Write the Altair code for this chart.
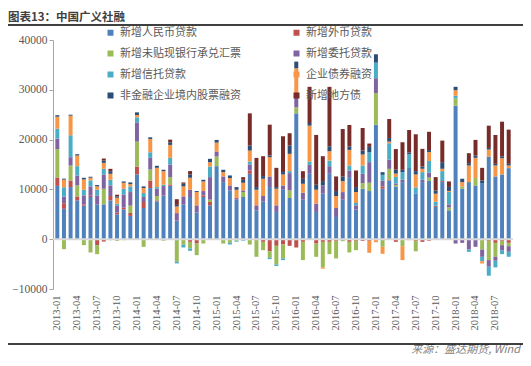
import altair as alt
import pandas as pd

months = [f"{y}-{m:02d}" for y in range(2013, 2019) for m in range(1, 13)][:69]

series_names = ["新增人民币贷款", "新增外币贷款", "新增未贴现银行承兑汇票", "新增委托贷款",
                "新增信托贷款", "企业债券融资", "非金融企业境内股票融资", "新增地方债"]
series_colors = ["#4F81BD", "#C0504D", "#9BBB59", "#8064A2",
                 "#4BACC6", "#F79646", "#2C4D75", "#772C2A"]

rmb = [10700, 6100, 10470, 7800, 6730, 8470, 6930, 7000, 7800, 5000, 6000, 4670,
       13000, 6270, 10270, 7600, 8670, 10730, 3670, 6930, 8470, 5330, 8470, 6800,
       14670, 11470, 9800, 7930, 8470, 13130, 5800, 7600, 10470, 5470, 9930, 8270,
       25270, 7930, 13130, 5470, 9130, 13130, 4470, 7930, 12470, 5930, 10130, 9670,
       23000, 10130, 11800, 10600, 11470, 14300, 9200, 11470, 11700, 6500, 11470, 5800,
       26800, 10130, 11470, 10800, 11270, 16600, 12600, 13000, 14270]
fx = [1700, 1130, 1330, 800, 270, 270, -1200, -470, 870, 330, 330, 600,
      1600, 1200, 1530, 200, 130, 270, 100, 0, -530, -870, 330, 670,
      0, 0, 0, 0, 0, 670, 0, -530, -2400, -1330, -1070, -1330,
      -1670, -530, 0, -870, -530, -530, -330, 0, -530, -330, -330, -330,
      0, 470, 200, -530, 0, 0, -330, -530, -300, 200, 200, 0,
      0, 0, 0, 0, 0, -330, -730, -330, -730]
ba = [5700, -2000, 3000, 2200, -1200, -2670, -1800, 3130, -200, -330, -200, 1470,
      5000, -1530, 2200, 870, -300, 1470, -4530, -1130, -1330, -2330, -870, 470,
      1930, -870, -730, -300, 1000, -1070, -3530, -1670, -1330, -3730, -2800, 1530,
      1200, -3670, 0, -2670, -5130, -2470, -3530, -400, -2130, -1870, 1130, 1670,
      6330, -1530, 2130, 300, -1400, 0, -2100, 0, 670, 0, 0, 600,
      1470, 470, 0, 1470, -2070, -3870, -2800, -870, -670]
ent = [2100, 1330, 1670, 2000, 1800, 1870, 1870, 2870, 2130, 1470, 2670, 2730,
       3870, 1000, 2330, 1470, 1870, 2530, 1470, 1670, 1470, 1470, 870, 4530,
       1000, 1130, 1000, 330, 330, 1200, 1000, 1070, 2130, 1330, 870, 3470,
       2130, 1400, 1800, 1670, 1670, 1530, 1800, 1530, 1330, 870, 1870, 4130,
       3000, 1200, 1870, 300, 470, 0, 0, 470, 1000, 0, 0, 600,
       -870, -730, -2070, -1530, -1470, -1330, -800, -1000, -1130]
trust = [2000, 1870, 4400, 1870, 1130, 1200, 1130, 1130, 1130, 330, 1130, 1130,
         1000, 800, 1130, 330, 270, 1330, -330, -530, -470, 0, 0, 2130,
         0, 0, -330, -200, -300, 600, 0, 0, -270, -330, -330, 400,
         530, 0, 670, 0, 0, 1130, 0, 0, 1000, 470, 1670, 2000,
         3130, 1130, 3270, 1300, 1530, 2770, 1200, 1530, 2330, 830, 2000, 2500,
         530, 0, -470, 0, -870, -1800, -1330, -800, -1000]
bond = [2400, 1530, 3930, 2130, 2070, 530, 670, 1200, 1200, 1200, 1200, 470,
        470, 1000, 2670, 3870, 2730, 2600, 1330, 2000, 2400, 2670, 1930, 870,
        1800, 870, 1470, 1670, 1530, 2200, 3130, 3470, 3870, 3330, 2200, 3470,
        5200, 1800, 7200, 2800, -270, 1870, 2400, 2200, 3130, 2200, 2200, -2400,
        -600, -1400, 330, 670, -2800, -200, 2600, 670, 1800, 1600, 470, 200,
        1130, 870, 3330, 4070, -470, 1400, 2200, 3270, 530]
eq = [300, 200, 200, 270, 330, 200, 270, 470, 530, 270, 270, 330,
      530, 330, 330, 400, 270, 530, 330, 530, 670, 200, 330, 670,
      530, 470, 530, 530, 600, 1000, 530, 530, 330, 330, 470, 1670,
      1330, 1000, 530, 1000, 870, 1000, 1000, 930, 670, 1000, 800, 1070,
      1670, 530, 730, 800, 470, 330, 670, 470, 400, 670, 1330, 800,
      670, 670, 470, 470, 530, 330, 330, 330, 330]
local = [0, 0, 0, 0, 0, 0, 0, 400, 470, 330, 0, 0,
         0, 0, 0, 0, 0, 530, 1130, 270, 670, 0, 0, 0,
         0, 0, 0, 0, 530, 6470, 5870, 4000, 6200, 3870, 7200, 2470,
         0, 1530, 7270, 10000, 5000, 11930, 2930, 9530, 4330, 3330, 4530, 670,
         0, 0, 3800, 4130, 5530, 4530, 7400, 3530, 3670, 2670, 4330, 1100,
         0, 0, 2000, 3130, 2530, 4470, 5800, 7000, 6870]

y_ticks = list(range(-10000, 40001, 5000))
x_ticks = months[::3]

all_series = [rmb, fx, ba, ent, trust, bond, eq, local]
rows = []
for j, (name, vals) in enumerate(zip(series_names, all_series)):
    for m, v in zip(months, vals):
        rows.append({"month": m, "series": name, "value": v, "idx": j})
df = pd.DataFrame(rows)

W, H = 460, 249

bars = alt.Chart(df).mark_bar().encode(
    x=alt.X("month:O", sort=months,
            scale=alt.Scale(domain=months, paddingInner=0.4, paddingOuter=0.35),
            axis=alt.Axis(values=x_ticks, labelAngle=-90, domain=False, ticks=False,
                          labelFont="Liberation Serif", labelFontSize=10.5,
                          labelColor="#595959", labelPadding=6, title=None)),
    y=alt.Y("value:Q", stack="zero",
            scale=alt.Scale(domain=[-10000, 40000], nice=False),
            axis=alt.Axis(values=y_ticks, format="d", grid=False,
                          domainColor="#A6A6A6", tickColor="#A6A6A6", tickSize=4,
                          labelFont="Liberation Serif", labelFontSize=11.5,
                          labelColor="#595959", labelPadding=2, title=None)),
    color=alt.Color("series:N",
                    scale=alt.Scale(domain=series_names, range=series_colors),
                    legend=alt.Legend(orient="none", legendX=52, legendY=-13,
                                      direction="horizontal",
                                      columns=2, columnPadding=50, rowPadding=9,
                                      symbolType="square", symbolSize=36,
                                      symbolStrokeWidth=0, labelFont="Noto Sans CJK SC",
                                      labelFontSize=11, labelColor="#595959",
                                      labelOffset=4, title=None, padding=0,
                                      labelLimit=300)),
    order=alt.Order("idx:Q", sort="ascending"),
)

zero = alt.Chart(pd.DataFrame({"v": [0]})).mark_rule(color="#D9D9D9", strokeWidth=2).encode(
    y=alt.Y(datum=0)
)

deco = pd.DataFrame({"t": ["图表13：中国广义社融"]})
title = alt.Chart(deco).mark_text(
    align="left", baseline="top", font="Noto Sans CJK SC", fontSize=11.5,
    fontWeight="bold", color="#404040"
).encode(x=alt.value(-45), y=alt.value(-28), text="t:N")

src = alt.Chart(pd.DataFrame({"t": ["来源：盛达期货, Wind"]})).mark_text(
    align="right", baseline="alphabetic", font="Noto Sans CJK SC", fontSize=11,
    fontStyle="italic", color="#7F7F7F"
).encode(x=alt.value(467), y=alt.value(313), text="t:N")

line_top = alt.Chart(pd.DataFrame({"a": [0]})).mark_rule(color="#000000", strokeWidth=1.5).encode(
    x=alt.value(-45), x2=alt.value(470), y=alt.value(-15)
)
line_bot = alt.Chart(pd.DataFrame({"a": [0]})).mark_rule(color="#000000", strokeWidth=1.5).encode(
    x=alt.value(-45), x2=alt.value(470), y=alt.value(304)
)

chart = alt.layer(bars, zero, title, src, line_top, line_bot).properties(
    width=W, height=H,
    autosize=alt.AutoSizeParams(type="none"),
    padding={"left": 45, "top": 32, "right": 10, "bottom": 68},
).configure_view(stroke=None)

chart.save("out.html", embed_options={"renderer": "svg", "actions": False})
